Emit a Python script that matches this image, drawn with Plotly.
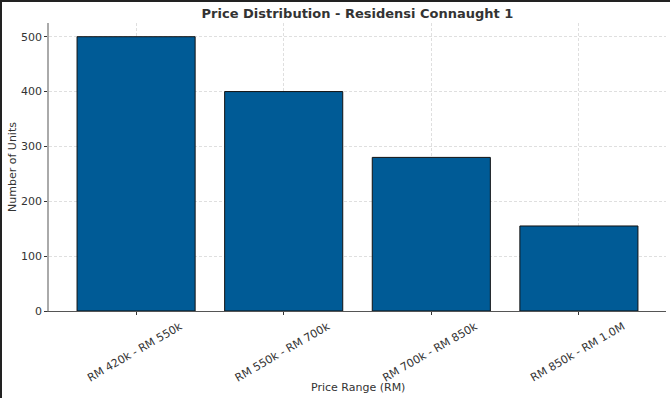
import plotly.graph_objects as go

categories = ["RM 420k - RM 550k", "RM 550k - RM 700k", "RM 700k - RM 850k", "RM 850k - RM 1.0M"]
units = [500, 400, 280, 155]
y_ticks = [0, 100, 200, 300, 400, 500]

W, H = 670, 398
L, R, T, B = 49, 4, 23, 87
font = "DejaVu Sans"
grid = "rgba(176,176,176,0.4)"

fig = go.Figure()
fig.add_trace(go.Bar(
    x=list(range(len(categories))), y=units,
    width=0.8,
    marker=dict(color="#005b96", line=dict(color="#111111", width=1)),
))

pw = W - L - R
ph = H - T - B

fig.update_layout(
    width=W, height=H,
    margin=dict(l=L, r=R, t=T, b=B, autoexpand=False),
    paper_bgcolor="white", plot_bgcolor="white",
    font=dict(family=font, size=11, color="#333333"),
    showlegend=False,
    title=dict(text="<b>Price Distribution - Residensi Connaught 1</b>",
               x=(L + (W - R)) / 2 / W, xanchor="center",
               y=1 - 13 / H, yanchor="middle",
               font=dict(family=font, size=13, color="#333333")),
    bargap=0.2,
)
fig.update_xaxes(
    automargin=False, layer="above traces",
    range=[-0.59, 3.59],
    tickmode="array", tickvals=list(range(len(categories))), ticktext=categories,
    tickangle=-30, ticklabelshift=44, ticklabelstandoff=1,
    ticks="outside", ticklen=3, tickcolor="#333333", tickwidth=1,
    showline=True, linecolor="#555555", linewidth=1,
    showgrid=True, gridcolor=grid, griddash="3px,2px", gridwidth=0.8,
    zeroline=False,
    tickfont=dict(size=11, color="#333333"),
)
fig.update_yaxes(
    automargin=False, layer="above traces",
    range=[0, 525],
    tickmode="array", tickvals=y_ticks,
    ticks="outside", ticklen=3, tickcolor="#333333", tickwidth=1,
    showline=True, linecolor="#aaaaaa", linewidth=1.5,
    showgrid=True, gridcolor=grid, griddash="3px,2px", gridwidth=0.8,
    zeroline=False,
    title=dict(text="Number of Units", standoff=2, font=dict(size=11)),
    tickfont=dict(size=11, color="#333333"),
)

fig.add_annotation(text="Price Range (RM)", xref="paper", yref="paper",
                   x=0.5, y=-(387 - (H - B)) / ph, xanchor="center", yanchor="middle",
                   showarrow=False, font=dict(family=font, size=11, color="#333333"))

# dark frame on top and left edges of the picture
fig.add_shape(type="rect", xref="paper", yref="paper",
              x0=-L / pw, x1=(W - L) / pw, y0=1 + T / ph - 2 / ph, y1=1 + T / ph + 1 / ph,
              fillcolor="#222222", line=dict(width=0), layer="above")
fig.add_shape(type="rect", xref="paper", yref="paper",
              x0=-L / pw - 1 / pw, x1=-L / pw + 2 / pw, y0=-B / ph - 1 / ph, y1=1 + T / ph + 1 / ph,
              fillcolor="#222222", line=dict(width=0), layer="above")

fig.write_html(
    "out.html",
    config={"displayModeBar": False},
    post_script="document.body.style.margin='0';document.body.style.overflow='hidden';",
)
